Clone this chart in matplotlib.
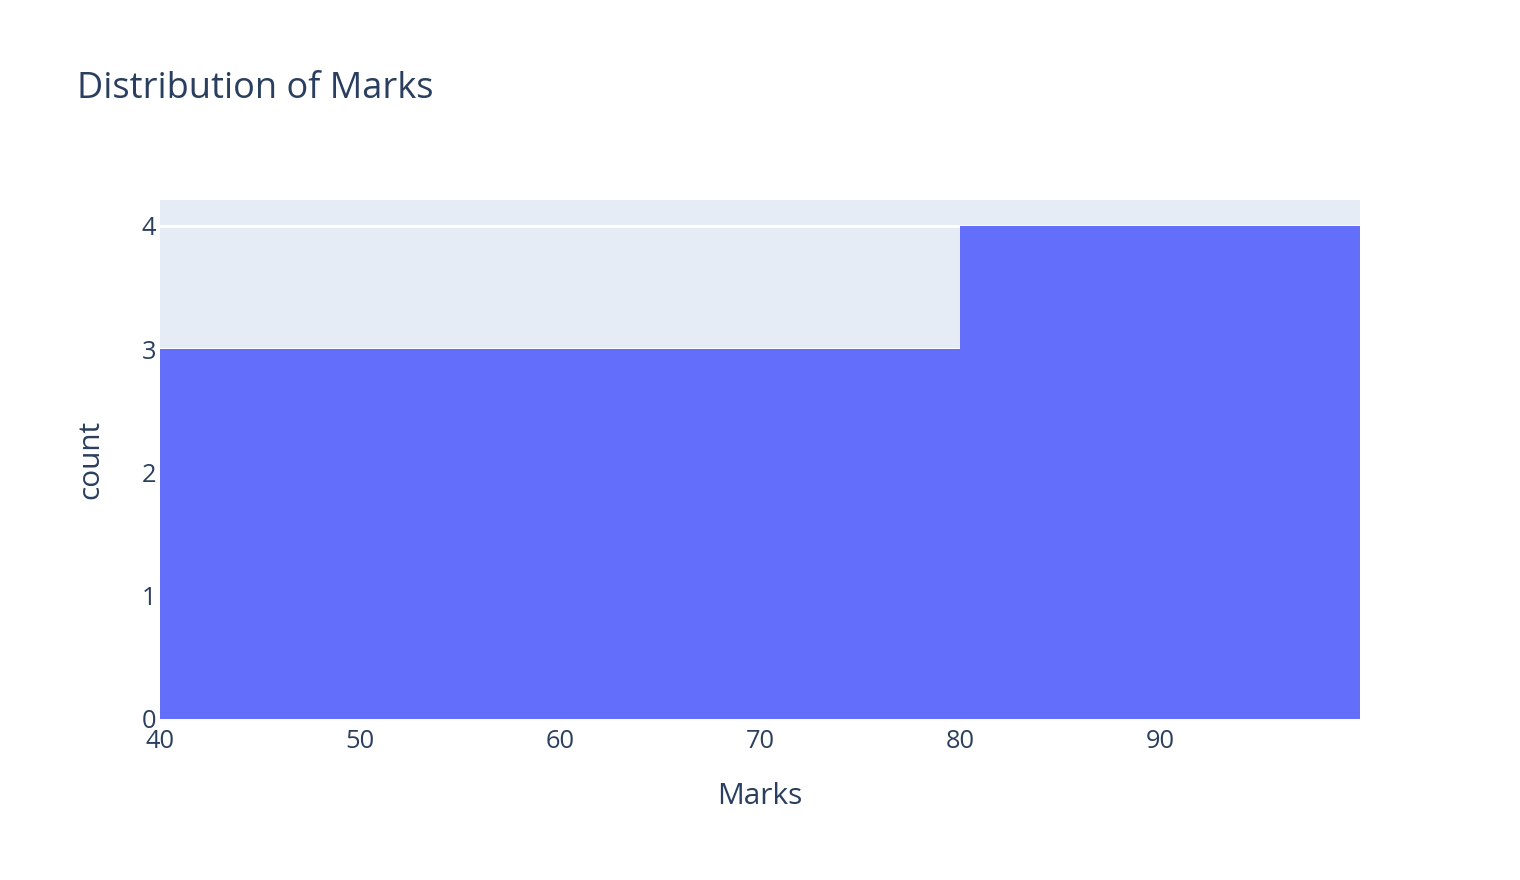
import matplotlib
matplotlib.use("Agg")
import matplotlib.pyplot as plt

bin_edges = [40, 60, 80, 100]
counts = [3, 3, 4]
x_ticks = [40, 50, 60, 70, 80, 90]
y_ticks = [0, 1, 2, 3, 4]

TXT = "#2a3f5f"
plt.rcParams['font.family'] = ['Open Sans', 'DejaVu Sans']

fig = plt.figure(figsize=(15.2, 8.8), dpi=100)
ax = fig.add_axes([160/1520, 1 - 719/880, 1200/1520, 519/880])
ax.set_facecolor("#E5ECF6")
for s in ax.spines.values():
    s.set_visible(False)

lefts = bin_edges[:-1]
widths = [b - a for a, b in zip(bin_edges[:-1], bin_edges[1:])]
ax.bar(lefts, counts, width=widths, align='edge', color="#636EFA", linewidth=0, zorder=3)

ax.set_xlim(40, 100)
ax.set_ylim(0, 4 / 0.95)
ax.set_xticks(x_ticks)
ax.set_yticks(y_ticks)
ax.grid(axis='y', color='white', linewidth=2, zorder=1)
ax.grid(axis='x', visible=False)
ax.set_axisbelow(True)
ax.tick_params(axis='both', length=0, labelsize=18.3, labelcolor=TXT)
ax.tick_params(axis='x', pad=7)
ax.tick_params(axis='y', pad=3)

ax.set_xlabel("Marks", fontsize=21.4, color=TXT, labelpad=20)
ax.set_ylabel("count", fontsize=21.4, color=TXT, labelpad=26)

fig.text(77/1520, 1 - 89/880, "Distribution of Marks", fontsize=26, color=TXT,
         va='center', ha='left')

fig.savefig("out.png", dpi=100, facecolor='white')
